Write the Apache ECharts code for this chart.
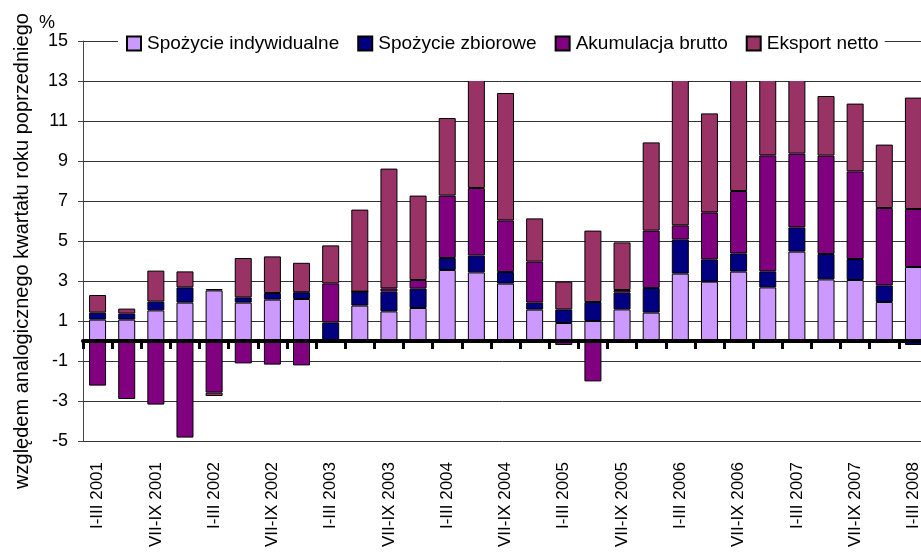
<!DOCTYPE html>
<html>
<head>
<meta charset="utf-8">
<script src="https://cdn.jsdelivr.net/npm/echarts@6/dist/echarts.min.js"></script>
<style>
  html, body { margin: 0; padding: 0; background: #fff; }
  #chart { width: 921px; height: 554px; }
</style>
</head>
<body>
<div id="chart"></div>
<script>
// kwartały
var quarters = [
  "I-III 2001", "IV-VI 2001", "VII-IX 2001", "X-XII 2001",
  "I-III 2002", "IV-VI 2002", "VII-IX 2002", "X-XII 2002",
  "I-III 2003", "IV-VI 2003", "VII-IX 2003", "X-XII 2003",
  "I-III 2004", "IV-VI 2004", "VII-IX 2004", "X-XII 2004",
  "I-III 2005", "IV-VI 2005", "VII-IX 2005", "X-XII 2005",
  "I-III 2006", "IV-VI 2006", "VII-IX 2006", "X-XII 2006",
  "I-III 2007", "IV-VI 2007", "VII-IX 2007", "X-XII 2007",
  "I-III 2008"
];

var spozycieIndywidualne = [1.07, 1.07, 1.53, 1.92, 2.53, 1.92, 2.07, 2.10, 0.00, 1.77, 1.48, 1.65, 3.55, 3.43, 2.87, 1.57, 0.90, 1.00, 1.58, 1.42, 3.37, 2.97, 3.47, 2.68, 4.47, 3.08, 3.05, 1.95, 3.70];
var spozycieZbiorowe = [0.35, 0.30, 0.44, 0.76, 0.07, 0.26, 0.33, 0.34, 0.93, 0.70, 0.99, 0.97, 0.60, 0.84, 0.58, 0.35, 0.68, 0.95, 0.84, 1.23, 1.70, 1.11, 0.91, 0.80, 1.21, 1.27, 1.05, 0.83, -0.20];
var akumulacjaBrutto = [-2.23, -2.90, -3.18, -4.83, -2.58, -1.12, -1.18, -1.22, 1.95, 0.00, 0.16, 0.43, 3.12, 3.38, 2.58, 2.05, -0.20, -2.02, 0.13, 2.87, 0.71, 2.35, 3.12, 5.80, 3.69, 4.92, 4.38, 3.87, 2.90];
var eksportNetto = [0.88, 0.25, 1.55, 0.80, -0.17, 1.97, 1.83, 1.47, 1.90, 4.10, 5.99, 4.22, 3.88, 5.85, 6.37, 2.16, 1.39, 3.57, 2.38, 4.41, 8.00, 4.95, 5.57, 3.77, 4.13, 2.98, 3.39, 3.17, 5.57];

// os Y: -5 .. 15 co 2
var yMin = -5;
var yMax = 15;
var yStep = 2;

var FONT = "'Liberation Sans', Arial, sans-serif";

var chart = echarts.init(document.getElementById("chart"));

function barSeries(name, data, color) {
  return {
    name: name,
    type: "bar",
    stack: "razem",
    xAxisIndex: 0,
    yAxisIndex: 1,
    barWidth: 17,
    data: data,
    itemStyle: { color: color, borderColor: "#000", borderWidth: 1 }
  };
}

var option = {
  backgroundColor: "#fff",
  animation: false,
  textStyle: { fontFamily: FONT, color: "#000" },
  title: {
    text: "%",
    left: 39,
    top: 14,
    padding: 0,
    textStyle: { fontFamily: FONT, fontSize: 18, fontWeight: "normal", color: "#000" }
  },
  legend: {
    left: 118,
    top: 8,
    padding: [26, 6, 28, 8],
    width: 800,
    backgroundColor: "#fff",
    itemWidth: 14,
    itemHeight: 14,
    itemGap: 18,
    icon: "rect",
    textStyle: { fontFamily: FONT, fontSize: 19, color: "#000", padding: [0, 0, 0, 1] },
    data: ["Spożycie indywidualne", "Spożycie zbiorowe", "Akumulacja brutto", "Eksport netto"]
  },
  graphic: [{
    type: "text",
    x: 22,
    y: 251,
    rotation: Math.PI / 2,
    style: {
      text: "względem analogicznego kwartału roku poprzedniego",
      font: "20px " + FONT,
      fill: "#000",
      align: "center",
      verticalAlign: "middle"
    }
  }],
  grid: { left: 83, top: 41, width: 845, height: 400, outerBoundsMode: "none", containLabel: false },
  xAxis: [
    {
      type: "category",
      data: quarters,
      z: 5,
      axisLine: { onZero: true, onZeroAxisIndex: 1, lineStyle: { color: "#000", width: 4 } },
      axisTick: { show: true, interval: 0, length: 8, lineStyle: { color: "#000", width: 3 } },
      axisLabel: { show: false }
    },
    {
      type: "category",
      data: quarters,
      position: "bottom",
      axisLine: { show: false, onZero: false },
      axisTick: { show: false },
      axisLabel: {
        rotate: 90,
        interval: 1,
        margin: 21,
        fontFamily: FONT,
        fontSize: 17,
        color: "#000"
      }
    }
  ],
  yAxis: [
    {
      // oś opisowa: 0..20 -> etykiety -5..15
      type: "value",
      min: 0,
      max: yMax - yMin,
      interval: yStep,
      axisLine: { show: true, onZero: false, lineStyle: { color: "#444", width: 1 } },
      axisTick: { show: true, length: 5, lineStyle: { color: "#444" } },
      axisLabel: {
        margin: 15,
        fontFamily: FONT,
        fontSize: 18,
        color: "#000",
        formatter: function (v) { return String(v + yMin); }
      },
      splitLine: { show: true, lineStyle: { color: "#333", width: 1 } }
    },
    {
      type: "value",
      min: yMin,
      max: yMax,
      show: false,
      splitLine: { show: false }
    }
  ],
  series: [
    barSeries("Spożycie indywidualne", spozycieIndywidualne, "#CC99FF"),
    barSeries("Spożycie zbiorowe", spozycieZbiorowe, "#000080"),
    barSeries("Akumulacja brutto", akumulacjaBrutto, "#800080"),
    barSeries("Eksport netto", eksportNetto, "#993366")
  ]
};

chart.setOption(option);
</script>
</body>
</html>
